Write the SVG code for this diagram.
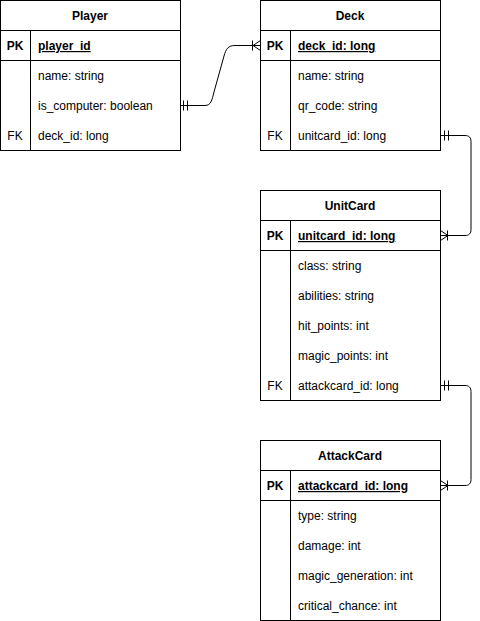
<svg xmlns="http://www.w3.org/2000/svg" width="480" height="621" viewBox="0 0 480 621">
<style>
.box{fill:#fff;stroke:#000;stroke-width:1}
.ln{stroke:#000;stroke-width:1;fill:none}
text{font-family:"Liberation Sans",Arial,sans-serif;font-size:12px;fill:#000}
.h{font-weight:bold;text-anchor:middle}
.k{font-weight:bold;text-anchor:middle}
.u{font-weight:bold;text-decoration:underline}
</style>
<rect width="480" height="621" fill="#fff"/>
<g id="Player">
<rect class="box" x="0.5" y="0.5" width="180" height="150"/>
<path class="ln" d="M0.5 30.5H180.5M0.5 60.5H180.5M30.5 30.5V150.5"/>
<text class="h" x="90" y="20">Player</text>
<text class="k" x="15" y="50">PK</text>
<text class="u" x="38" y="50">player_id</text>
<text x="38" y="80">name: string</text>
<text x="38" y="110">is_computer: boolean</text>
<text x="15" y="140" text-anchor="middle">FK</text>
<text x="38" y="140">deck_id: long</text>
</g>
<g id="Deck">
<rect class="box" x="260.5" y="0.5" width="180" height="150"/>
<path class="ln" d="M260.5 30.5H440.5M260.5 60.5H440.5M290.5 30.5V150.5"/>
<text class="h" x="350" y="20">Deck</text>
<text class="k" x="275" y="50">PK</text>
<text class="u" x="298" y="50">deck_id: long</text>
<text x="298" y="80">name: string</text>
<text x="298" y="110">qr_code: string</text>
<text x="275" y="140" text-anchor="middle">FK</text>
<text x="298" y="140">unitcard_id: long</text>
</g>
<g id="UnitCard">
<rect class="box" x="260.5" y="190.5" width="180" height="210"/>
<path class="ln" d="M260.5 220.5H440.5M260.5 250.5H440.5M290.5 220.5V400.5"/>
<text class="h" x="350" y="210">UnitCard</text>
<text class="k" x="275" y="240">PK</text>
<text class="u" x="298" y="240">unitcard_id: long</text>
<text x="298" y="270">class: string</text>
<text x="298" y="300">abilities: string</text>
<text x="298" y="330">hit_points: int</text>
<text x="298" y="360">magic_points: int</text>
<text x="275" y="390" text-anchor="middle">FK</text>
<text x="298" y="390">attackcard_id: long</text>
</g>
<g id="AttackCard">
<rect class="box" x="260.5" y="440.5" width="180" height="180"/>
<path class="ln" d="M260.5 470.5H440.5M260.5 500.5H440.5M290.5 470.5V620.5"/>
<text class="h" x="350" y="460">AttackCard</text>
<text class="k" x="275" y="490">PK</text>
<text class="u" x="298" y="490">attackcard_id: long</text>
<text x="298" y="520">type: string</text>
<text x="298" y="550">damage: int</text>
<text x="298" y="580">magic_generation: int</text>
<text x="298" y="610">critical_chance: int</text>
</g>
<g id="connectors">
<path class="ln" d="M180.5 105.5H205C211 105.5 212 100 214 92L224 56C226 49 228 45.5 235 45.5H260.5"/>
<path class="ln" d="M183.5 100.5V110.5M187.5 100.5V110.5"/>
<path class="ln" d="M252.5 40.5V50.5M260.5 40.5L253 45.5L260.5 50.5"/>
<path class="ln" d="M440.5 135.5H465C469 135.5 471 137.5 471 141.5V229.5C471 233.5 469 235.5 465 235.5H440.5"/>
<path class="ln" d="M444.5 130.5V140.5M448.5 130.5V140.5"/>
<path class="ln" d="M447.5 230.5V240.5M440.5 230.5L448 235.5L440.5 240.5"/>
<path class="ln" d="M440.5 385.5H465C469 385.5 471 387.5 471 391.5V479.5C471 483.5 469 485.5 465 485.5H440.5"/>
<path class="ln" d="M444.5 380.5V390.5M448.5 380.5V390.5"/>
<path class="ln" d="M447.5 480.5V490.5M440.5 480.5L448 485.5L440.5 490.5"/>
</g>
</svg>
